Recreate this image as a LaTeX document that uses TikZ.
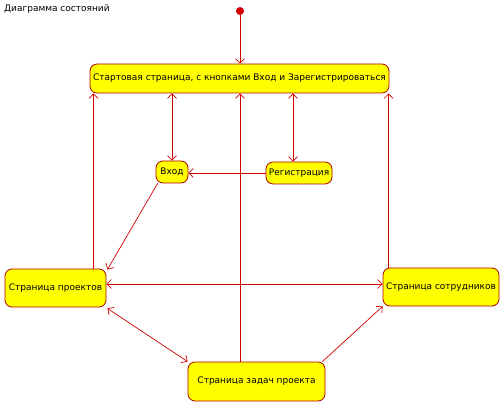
\documentclass[tikz,border=0pt]{standalone}
\usepackage{fontspec}
\setmainfont{DejaVu Sans}
\usetikzlibrary{arrows.meta,calc}
\definecolor{ln}{HTML}{D40000}
\definecolor{bd}{HTML}{B00000}
\definecolor{fl}{HTML}{FFFF00}
\begin{document}
\begin{tikzpicture}[x=1pt,y=-1pt,
  state/.style={draw=bd,fill=fl,rounded corners=7pt,inner sep=0pt,font=\fontsize{9}{11}\selectfont,line width=0.8pt},
  arr/.style={draw=ln,line width=0.7pt,-{Straight Barb[length=4.5pt,width=9pt]}},
  darr/.style={draw=ln,line width=0.7pt,{Straight Barb[length=4.5pt,width=9pt]}-{Straight Barb[length=4.5pt,width=9pt]}}]
\useasboundingbox (0,0) rectangle (503,403);
\node[anchor=west,inner sep=0pt,font=\fontsize{9}{11}\selectfont] (title) at (4,9) {Диаграмма состояний};
\node[circle,fill=ln,inner sep=0pt,minimum size=8pt] (init) at (240,11) {};
\node[state,minimum width=299pt,minimum height=29pt] (start) at (239.5,78.5) {Стартовая страница, с кнопками Вход и Зарегистрироваться};
\node[state,minimum width=32pt,minimum height=22pt] (vxod) at (172,172) {Вход};
\node[state,minimum width=66pt,minimum height=22pt] (reg) at (299,173) {Регистрация};
\node[state,minimum width=101pt,minimum height=38pt] (proj) at (55.5,288) {Страница проектов};
\node[state,minimum width=116pt,minimum height=38pt] (sotr) at (441,287) {Страница сотрудников};
\node[state,minimum width=137pt,minimum height=39pt] (zad) at (256.5,381.5) {Страница задач проекта};
% edges
\draw[arr] (init) -- (init |- start.north);
\draw[darr] (vxod.north |- start.south) -- (vxod.north);
\draw[darr] ([xshift=-6pt]reg.north |- start.south) -- ([xshift=-6pt]reg.north);
\draw[arr] (reg.west) -- (reg.west -| vxod.east);
\draw[arr] (init |- zad.north) -- (init |- start.south);
\draw[arr] ([xshift=-13pt]proj.north east) -- ([xshift=-13pt]proj.north east |- start.south);
\draw[arr] ([xshift=6pt]sotr.north west) -- ([xshift=6pt]sotr.north west |- start.south);
\draw[arr] ([xshift=2pt]vxod.south west) -- ([xshift=1pt,yshift=-1pt]proj.north east);
\draw[darr] ([yshift=4pt]proj.east) -- ([yshift=4pt]proj.east -| sotr.west);
\draw[darr] ([xshift=1pt,yshift=-1pt]proj.south east) -- (zad.north west);
\draw[arr] ([xshift=-3pt]zad.north east) -- (sotr.south west);
\end{tikzpicture}
\end{document}
